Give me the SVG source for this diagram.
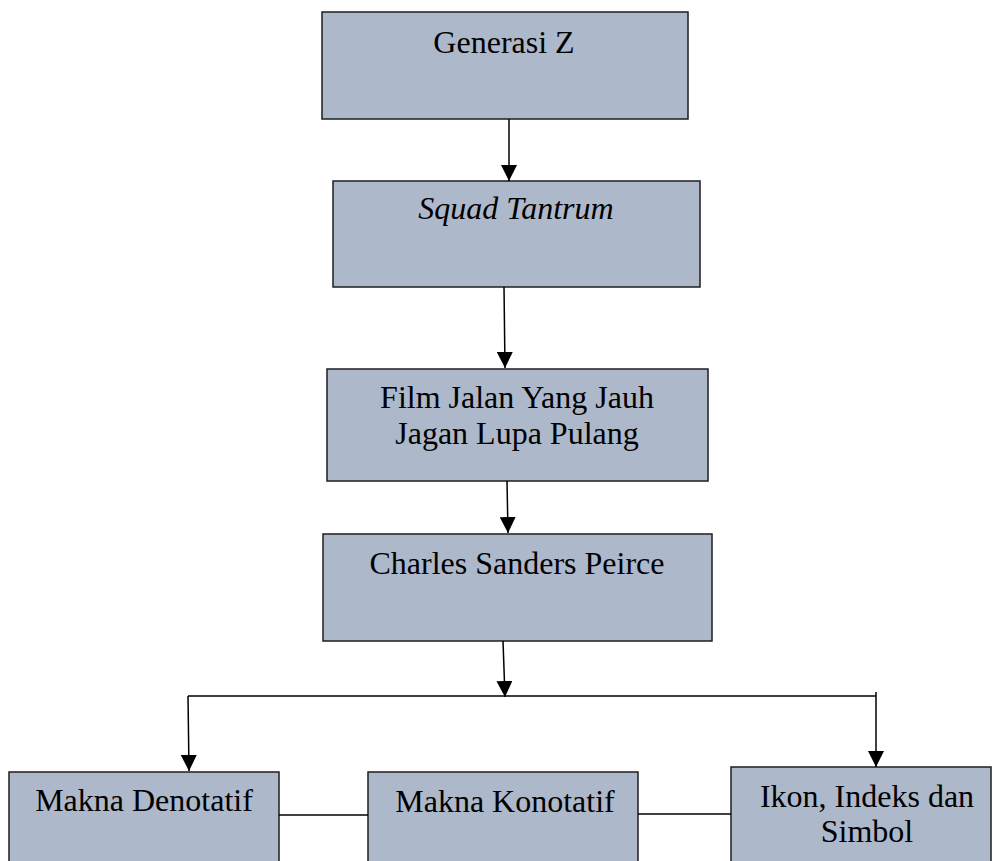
<svg xmlns="http://www.w3.org/2000/svg" width="993" height="861" viewBox="0 0 993 861">
<style>
.box{fill:#adb8ca;stroke:#1e1e1e;stroke-width:1.5}
.t{font-family:"Liberation Serif","Times New Roman",serif;font-size:32px;fill:#000;text-anchor:middle}
.i{font-style:italic}
.c{stroke:#000;stroke-width:1.5;fill:none}
</style>
<defs>
<marker id="ah" markerUnits="userSpaceOnUse" markerWidth="16" markerHeight="16" refX="15" refY="7.5" orient="auto" viewBox="0 0 15 15">
<path d="M0,0 L15,7.5 L0,15 z" fill="#000"/>
</marker>
</defs>
<rect x="0" y="0" width="993" height="861" fill="#fff"/>
<g id="n1"><rect class="box" x="322" y="12" width="366" height="107"/><text class="t" x="504" y="53">Generasi Z</text></g>
<g id="n2"><rect class="box" x="333" y="181" width="367" height="106"/><text class="t i" x="516" y="219">Squad Tantrum</text></g>
<g id="n3"><rect class="box" x="327" y="369" width="381" height="112"/><text class="t" x="517" y="408">Film Jalan Yang Jauh</text><text class="t" x="517" y="444">Jagan Lupa Pulang</text></g>
<g id="n4"><rect class="box" x="323" y="534" width="389" height="107"/><text class="t" x="517" y="574">Charles Sanders Peirce</text></g>
<g id="n5"><rect class="box" x="9" y="772" width="270" height="110"/><text class="t" x="144" y="811">Makna Denotatif</text></g>
<g id="n6"><rect class="box" x="368" y="772" width="270" height="110"/><text class="t" x="505" y="812">Makna Konotatif</text></g>
<g id="n7"><rect class="box" x="731" y="767" width="260" height="115"/><text class="t" x="867" y="807">Ikon, Indeks dan</text><text class="t" x="867" y="842">Simbol</text></g>
<g id="connectors">
<line class="c" x1="509" y1="119" x2="509" y2="181" marker-end="url(#ah)"/>
<line class="c" x1="504" y1="287" x2="505" y2="368" marker-end="url(#ah)"/>
<line class="c" x1="507" y1="481" x2="508" y2="533" marker-end="url(#ah)"/>
<line class="c" x1="503" y1="641" x2="505" y2="697" marker-end="url(#ah)"/>
<line class="c" x1="188" y1="696" x2="876" y2="696"/>
<line class="c" x1="188" y1="696" x2="189" y2="771" marker-end="url(#ah)"/>
<line class="c" x1="876" y1="692" x2="876" y2="767" marker-end="url(#ah)"/>
<line class="c" x1="279" y1="815" x2="368" y2="815"/>
<line class="c" x1="638" y1="814" x2="731" y2="814"/>
</g>
</svg>
